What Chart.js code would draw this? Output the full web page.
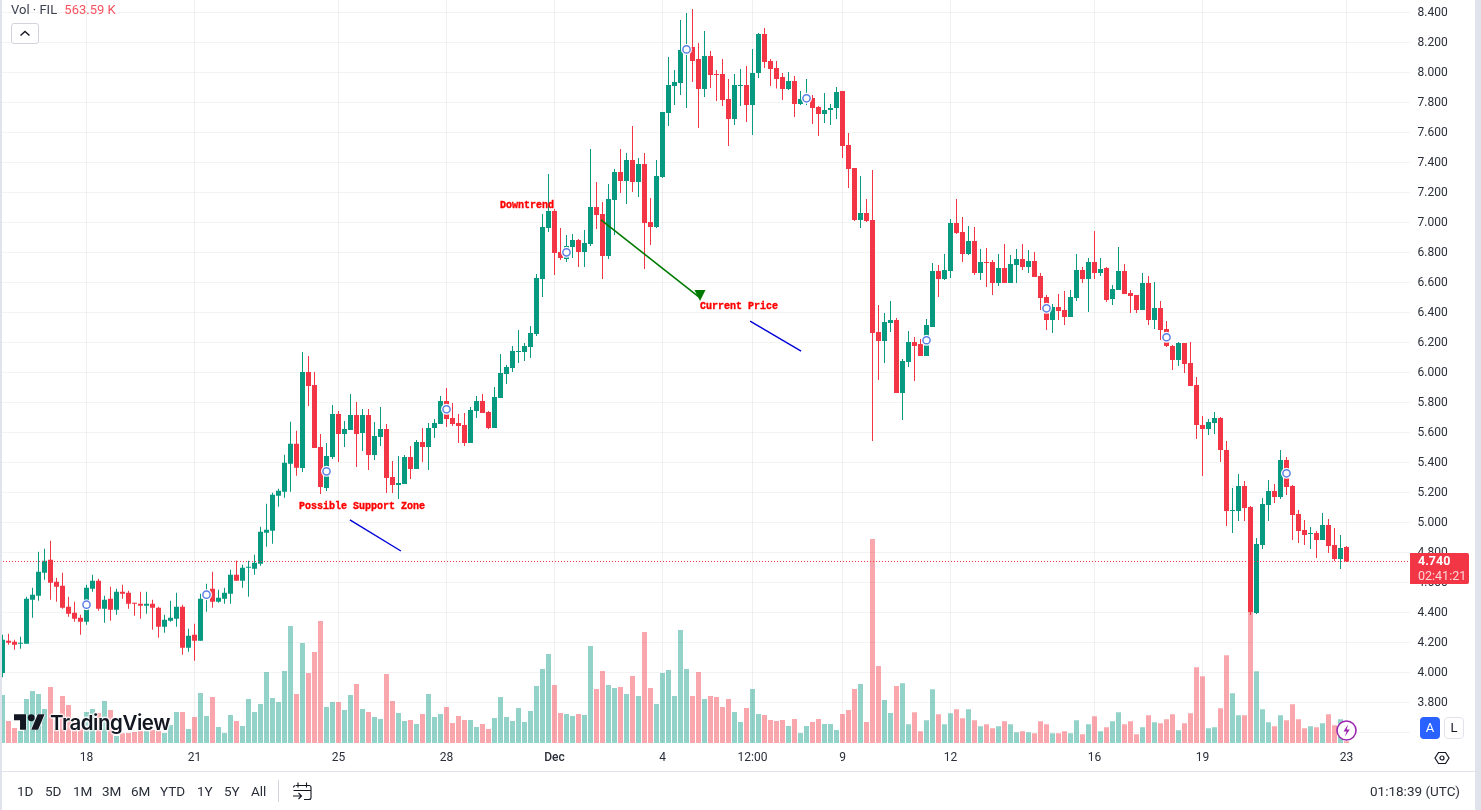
<!DOCTYPE html>
<html>
<head>
<meta charset="utf-8">
<title>FIL chart</title>
<script src="https://cdn.jsdelivr.net/npm/chart.js@4/dist/chart.umd.min.js"></script>
<style>
html,body{margin:0;padding:0;background:#fff;width:1481px;height:810px;overflow:hidden;font-family:Roboto,sans-serif;color:#131722}
#chart{position:absolute;left:-6px;top:0}
.ui{position:absolute;white-space:nowrap}
.range{top:783px;font-size:13.5px;line-height:16px;color:#2a2e39}
#stripL{left:0;top:0;width:2px;height:810px;background:#e0e3eb}
#stripR{left:1475px;top:0;width:6px;height:810px;background:#e0e3eb}
#axisLine{left:2px;top:771px;width:1473px;height:1px;background:#e0e3eb}
#legend{left:11px;top:2px;font-size:13px;line-height:16px;color:#3d4150}
#legend b{font-weight:400;color:#f7525f;margin-left:4px}
#collapse{left:11px;top:23px;width:26px;height:19px;border:1px solid #d1d4dc;border-radius:3px;background:#fff}
#tag{left:1410px;top:553px;width:59px;height:31px;background:#f23645;border-radius:0 2px 2px 0;color:#fff}
#tag div{position:absolute;left:8px;font-size:12.5px;line-height:14px}
#btnA{left:1420px;top:717px;width:20px;height:22px;background:#2962ff;color:#fff;border-radius:4px;text-align:center;font-size:13px;line-height:22px}
#btnL{left:1444px;top:717px;width:18px;height:20px;border:1px solid #e0e3eb;background:#fff;border-radius:4px;text-align:center;font-size:13px;line-height:20px}
#brand{left:50px;top:710px;font-family:Inter,Roboto,sans-serif;font-size:20.5px;line-height:26px;font-weight:600;letter-spacing:-.45px;color:#131722;text-shadow:0 0 2px #fff,0 0 2px #fff,1px 0 2px #fff,-1px 0 2px #fff,0 1px 2px #fff,0 -1px 2px #fff}
#clock{left:1370px;top:783px;font-size:13.5px;line-height:16px;color:#2a2e39}
</style>
</head>
<body>
<canvas id="chart" width="1487" height="771"></canvas>

<div class="ui" id="stripL"></div>
<div class="ui" id="stripR"></div>
<div class="ui" id="axisLine"></div>

<div class="ui" id="legend">Vol · FIL <b>563.59 K</b></div>
<div class="ui" id="collapse">
  <svg width="26" height="19"><path d="M8.5 11.5l4.5-4 4.5 4" fill="none" stroke="#131722" stroke-width="1.4"/></svg>
</div>

<svg class="ui" style="left:14px;top:714px" width="31" height="16" viewBox="0 4 36 18">
  <path d="M14 22H7V11H0V4h14v18zM28 22h-8l7.5-18h8L28 22z" fill="#131722" stroke="#fff" stroke-width="1.5" paint-order="stroke"/>
  <circle cx="20" cy="8" r="4" fill="#131722"/>
</svg>
<div class="ui" id="brand">TradingView</div>

<div class="ui" id="tag"><div style="top:1px;font-weight:700">4.740</div><div style="top:16px;color:#fbd5d8">02:41:21</div></div>
<div class="ui" id="btnA">A</div>
<div class="ui" id="btnL">L</div>

<svg class="ui" style="left:1335px;top:719px" width="23" height="23">
  <circle cx="11.5" cy="11.5" r="9.500" fill="#fff" stroke="#9c27b0" stroke-width="1.6"/>
  <path d="M13 5.500l-4.500 7h3l-1.500 5 4.800-7h-3z" fill="#9c27b0"/>
</svg>
<svg class="ui" style="left:1434px;top:750px" width="16" height="16">
  <path d="M4.500 2.500h7L15 8l-3.500 5.500h-7L1 8z" fill="none" stroke="#131722" stroke-width="1.2"/>
  <circle cx="8" cy="8" r="2" fill="none" stroke="#131722" stroke-width="1.2"/>
</svg>

<div class="ui range" style="left:17px">1D</div>
<div class="ui range" style="left:45px">5D</div>
<div class="ui range" style="left:73px">1M</div>
<div class="ui range" style="left:102px">3M</div>
<div class="ui range" style="left:131px">6M</div>
<div class="ui range" style="left:160px">YTD</div>
<div class="ui range" style="left:197px">1Y</div>
<div class="ui range" style="left:224px">5Y</div>
<div class="ui range" style="left:251px">All</div>
<div class="ui" style="left:278px;top:780px;width:1px;height:22px;background:#d1d4dc"></div>
<svg class="ui" style="left:292px;top:780px" width="20" height="21">
  <path d="M4 5.500h13a2 2 0 0 1 2 2v10a2 2 0 0 1-2 2h-5M1.500 10.500h17.500M1.500 7.500a2 2 0 0 1 2-2M6 2.500v5M14.500 2.500v5M1 16h8M6.500 13l3 3-3 3" fill="none" stroke="#131722" stroke-width="1.1"/>
</svg>
<div class="ui" id="clock">01:18:39 (UTC)</div>

<script>
// 4h candles, left to right
const opens = [
  3.996,4.211,4.205,4.191,4.191,4.485,4.511,4.665,4.751,4.605,
  4.578,4.438,4.398,4.365,4.338,4.558,4.611,4.425,4.491,4.418,
  4.538,4.531,4.465,4.458,4.445,4.458,4.431,4.305,4.345,4.358,
  4.438,4.165,4.251,4.211,4.491,4.558,4.471,4.491,4.525,4.651,
  4.611,4.698,4.691,4.725,4.931,4.945,5.178,5.205,5.391,5.525,
  5.363,6.003,5.916,5.503,5.230,5.436,5.723,5.590,5.616,5.716,
  5.596,5.716,5.450,5.570,5.623,5.303,5.250,5.256,5.436,5.356,
  5.536,5.503,5.630,5.656,5.810,5.696,5.663,5.650,5.530,5.743,
  5.810,5.736,5.630,5.830,5.990,6.030,6.136,6.136,6.170,6.256,
  6.623,6.963,7.076,6.803,6.756,6.836,6.883,6.803,6.856,7.103,
  7.056,6.776,7.150,7.336,7.276,7.416,7.270,7.390,7.003,6.970,
  7.303,7.730,7.910,7.930,8.140,8.170,8.090,7.890,8.110,7.990,
  7.990,7.823,7.690,7.910,7.916,7.783,7.996,8.256,8.076,8.030,
  7.970,7.890,7.943,7.790,7.810,7.830,7.770,7.723,7.750,7.763,
  7.877,7.517,7.363,7.017,7.063,7.017,6.270,6.210,6.330,6.350,
  5.863,6.070,6.203,6.190,6.110,6.303,6.677,6.623,6.677,6.997,
  6.937,6.790,6.877,6.663,6.737,6.737,6.597,6.697,6.597,6.717,
  6.757,6.703,6.743,6.643,6.503,6.350,6.437,6.417,6.370,6.497,
  6.683,6.623,6.737,6.663,6.697,6.490,6.550,6.677,6.530,6.517,
  6.417,6.597,6.350,6.430,6.290,6.177,6.083,6.197,6.063,5.917,
  5.650,5.623,5.663,5.697,5.483,5.077,5.077,5.243,5.103,4.397,
  4.850,5.117,5.210,5.170,5.417,5.243,5.057,4.950,4.923,4.930,
  4.883,4.983,4.850,4.757,4.837
];
const highs = [
  4.251,4.258,4.218,4.238,4.505,4.565,4.805,4.825,4.878,4.631,
  4.665,4.505,4.471,4.385,4.585,4.651,4.625,4.511,4.571,4.558,
  4.585,4.545,4.465,4.538,4.538,4.485,4.438,4.385,4.478,4.531,
  4.451,4.291,4.325,4.525,4.591,4.671,4.551,4.565,4.685,4.745,
  4.718,4.745,4.785,4.971,5.125,5.198,5.225,5.451,5.671,5.611,
  6.136,6.110,6.003,5.590,5.530,5.783,5.743,5.676,5.856,5.803,
  5.756,5.756,5.670,5.770,5.656,5.410,5.443,5.450,5.510,5.550,
  5.630,5.663,5.690,5.843,5.896,5.796,5.723,5.730,5.770,5.843,
  5.856,5.743,5.903,6.123,6.050,6.176,6.283,6.196,6.310,6.656,
  7.056,7.323,7.090,6.963,6.916,6.923,6.890,6.950,7.490,7.270,
  7.136,7.256,7.356,7.490,7.463,7.643,7.430,7.463,7.163,7.416,
  7.736,8.103,8.016,8.350,8.396,8.423,8.196,8.276,8.143,8.016,
  8.090,7.956,7.990,8.023,8.043,8.156,8.263,8.296,8.090,8.076,
  7.996,8.003,7.976,7.876,7.956,7.850,7.776,7.863,7.790,7.903,
  7.877,7.597,7.363,7.310,7.157,7.350,6.450,6.397,6.477,6.363,
  6.090,6.277,6.237,6.223,6.357,6.730,6.717,6.790,7.023,7.157,
  7.037,6.977,6.970,6.823,6.830,6.750,6.790,6.857,6.783,6.823,
  6.857,6.817,6.803,6.663,6.517,6.457,6.523,6.543,6.550,6.790,
  6.703,6.763,6.943,6.763,6.703,6.583,6.837,6.723,6.550,6.517,
  6.663,6.643,6.603,6.477,6.343,6.183,6.203,6.197,6.203,5.970,
  5.710,5.690,5.737,5.703,5.543,5.230,5.323,5.277,5.110,4.897,
  5.163,5.283,5.257,5.483,5.437,5.250,5.083,5.017,4.970,4.943,
  5.063,5.023,4.963,4.917,4.843
];
const lows = [
  3.969,4.185,4.151,4.158,4.191,4.365,4.478,4.618,4.485,4.471,
  4.425,4.371,4.338,4.251,4.318,4.538,4.411,4.331,4.345,4.385,
  4.491,4.425,4.378,4.358,4.391,4.285,4.231,4.265,4.338,4.305,
  4.118,4.138,4.078,4.211,4.405,4.431,4.465,4.458,4.458,4.611,
  4.565,4.505,4.651,4.711,4.838,4.858,5.105,5.165,5.205,5.311,
  5.336,5.776,5.496,5.190,5.210,5.423,5.403,5.503,5.616,5.370,
  5.476,5.350,5.416,5.510,5.196,5.196,5.156,5.256,5.290,5.356,
  5.403,5.350,5.563,5.656,5.636,5.643,5.530,5.510,5.530,5.696,
  5.730,5.623,5.630,5.830,5.923,6.003,6.063,6.076,6.096,6.243,
  6.503,6.936,6.650,6.750,6.736,6.763,6.703,6.703,6.843,6.956,
  6.623,6.756,6.916,7.196,7.123,7.203,7.170,6.690,6.850,6.963,
  7.296,7.643,7.783,7.850,7.763,7.936,7.630,7.836,7.896,7.810,
  7.776,7.510,7.650,7.776,7.670,7.583,7.963,8.030,7.910,7.894,
  7.816,7.883,7.703,7.783,7.783,7.656,7.576,7.663,7.650,7.690,
  7.430,7.230,7.010,6.963,7.003,5.543,5.950,6.063,6.270,5.863,
  5.683,6.037,5.943,6.110,6.110,6.303,6.503,6.617,6.630,6.923,
  6.737,6.783,6.650,6.617,6.570,6.517,6.577,6.597,6.597,6.597,
  6.683,6.663,6.637,6.417,6.283,6.263,6.350,6.317,6.370,6.477,
  6.597,6.403,6.623,6.643,6.470,6.450,6.550,6.523,6.397,6.397,
  6.417,6.317,6.290,6.217,6.170,6.017,6.043,5.997,5.910,5.557,
  5.310,5.583,5.590,5.403,4.977,4.930,5.010,5.010,4.383,4.390,
  4.823,5.010,5.130,5.157,5.183,4.883,4.863,4.850,4.823,4.763,
  4.883,4.797,4.743,4.690,4.737
];
const closes = [
  4.218,4.198,4.185,4.198,4.491,4.518,4.671,4.745,4.598,4.571,
  4.431,4.391,4.358,4.338,4.565,4.611,4.425,4.485,4.418,4.538,
  4.525,4.458,4.458,4.445,4.458,4.431,4.305,4.351,4.365,4.438,
  4.165,4.245,4.211,4.491,4.538,4.471,4.498,4.531,4.651,4.611,
  4.698,4.705,4.731,4.938,4.951,5.185,5.211,5.398,5.525,5.365,
  6.003,5.910,5.496,5.236,5.443,5.723,5.590,5.623,5.716,5.590,
  5.716,5.450,5.576,5.623,5.296,5.250,5.263,5.436,5.356,5.536,
  5.503,5.630,5.663,5.810,5.690,5.656,5.643,5.530,5.750,5.810,
  5.730,5.630,5.836,5.996,6.036,6.143,6.143,6.176,6.263,6.630,
  6.970,7.076,6.796,6.763,6.843,6.883,6.803,6.863,7.103,7.050,
  6.776,7.156,7.336,7.276,7.416,7.270,7.390,6.996,6.970,7.310,
  7.736,7.916,7.936,8.150,8.160,8.076,7.890,8.110,7.983,7.983,
  7.816,7.690,7.916,7.916,7.783,7.996,8.256,8.070,8.023,7.956,
  7.890,7.943,7.790,7.823,7.850,7.763,7.723,7.750,7.763,7.870,
  7.510,7.357,7.017,7.063,7.010,6.263,6.210,6.337,6.350,5.863,
  6.077,6.203,6.177,6.110,6.317,6.677,6.623,6.683,6.997,6.930,
  6.790,6.877,6.663,6.737,6.730,6.597,6.697,6.597,6.723,6.757,
  6.703,6.743,6.637,6.497,6.350,6.437,6.410,6.370,6.503,6.683,
  6.623,6.737,6.663,6.690,6.483,6.557,6.677,6.523,6.510,6.417,
  6.597,6.350,6.430,6.283,6.177,6.083,6.197,6.057,5.910,5.650,
  5.623,5.670,5.697,5.483,5.077,5.083,5.243,5.097,4.403,4.857,
  5.123,5.210,5.170,5.417,5.237,5.050,4.943,4.917,4.930,4.883,
  4.983,4.843,4.757,4.830,4.740
];
// volume in millions
const volumes = [
  14.4,6.6,4.5,3.6,13.2,15.6,14.7,10.2,16.8,6.9,
  14.1,11.4,6.9,5.4,9.3,10.2,9.0,12.6,9.9,2.1,
  2.9,3.0,3.3,3.6,3.6,3.9,3.6,3.0,5.4,9.3,
  9.3,4.2,7.8,15.0,8.1,13.8,4.8,3.0,8.4,6.6,
  5.1,13.2,9.3,11.7,21.3,13.5,12.3,21.6,35.1,14.7,
  30.0,21.0,27.3,36.6,10.8,12.3,12.3,9.9,14.4,17.7,
  10.2,9.3,7.8,7.2,20.7,12.6,9.0,6.6,6.9,5.7,
  8.7,14.7,7.8,8.7,10.8,6.0,8.1,6.9,6.9,4.8,
  5.7,4.2,7.5,13.8,7.8,6.6,10.5,6.3,9.6,17.1,
  22.2,26.7,17.4,9.0,8.7,8.1,8.7,8.4,29.1,16.2,
  21.6,17.4,16.5,16.8,14.7,20.1,14.1,33.3,16.5,11.7,
  21.0,21.9,14.1,33.9,22.2,14.1,21.3,13.2,14.1,13.8,
  10.8,13.2,9.3,6.3,10.5,16.2,8.7,8.4,6.9,6.6,
  6.9,5.1,7.2,3.0,5.1,6.3,7.2,5.7,5.7,3.9,
  8.7,9.9,16.2,17.7,6.3,61.2,23.1,12.9,9.0,17.1,
  17.9,5.6,9.2,3.5,6.8,16.1,8.6,5.6,8.9,10.1,
  7.4,10.1,6.8,5.0,5.6,4.4,5.0,6.5,5.6,3.2,
  3.5,3.2,2.9,6.5,5.6,2.9,2.9,3.5,2.9,6.8,
  2.6,5.6,8.0,3.5,4.7,6.5,9.2,5.6,6.5,2.6,
  4.7,8.3,6.2,5.9,7.1,8.6,3.8,5.9,8.9,22.7,
  20.0,4.4,4.7,10.4,26.3,14.9,8.3,8.3,41.3,21.5,
  10.1,6.2,5.0,8.3,6.8,11.6,7.1,4.4,5.0,4.7,
  5.9,8.6,5.3,7.1,0.56
];
const priceTicks = [3.6,3.8,4.0,4.2,4.4,4.6,4.8,5.0,5.2,5.4,5.6,5.8,6.0,6.2,6.4,6.6,6.8,7.0,7.2,7.4,7.6,7.8,8.0,8.2,8.4];
const tickIndex = [14,32,56,74,92,110,125,140,158,182,200,224];
const tickText = ["18","21","25","28","Dec","4","12:00","9","12","16","19","23"];
const markerIndex = [14,34,54,74,94,114,134,154,174,194,214];
const markerPrice = [4.452,4.519,5.341,5.755,6.801,8.154,7.828,6.215,6.428,6.235,5.328];
const lastPrice = 4.740;

const UP = "#089981", DOWN = "#f23645";
const SLOTS = 235; // candles plus the empty space on the right

const xLabels = Array(SLOTS).fill("");
tickIndex.forEach((n,k)=>{ xLabels[n] = tickText[k]; });

const candleColor = closes.map((c,i)=> c >= opens[i] ? UP : DOWN);
const volColor = closes.map((c,i)=> c >= opens[i] ? "rgba(8,153,129,.44)" : "rgba(242,54,69,.44)");

/* DRAWINGS placed on the scales */
const drawnLines = [
  {from:[57.9,5.017], to:[66.4,4.810], color:"#0000d8", width:1.4},
  {from:[124.6,6.343], to:[133.1,6.143], color:"#0000d8", width:1.4},
  {from:[99.75,7.017], to:[116.1,6.503], color:"#007a00", width:1.6}
];
const drawnText = [
  {at:[82.9,7.113], text:"Downtrend"},
  {at:[116.25,6.443], text:"Current Price"},
  {at:[49.4,5.110], text:"Possible Support Zone"}
];
const arrowTip = [116.25,6.477];

const drawings = {
  id:"drawings",
  afterDatasetsDraw(chart){
    const c = chart.ctx, x = chart.scales.x, y = chart.scales.y;
    c.save();

    // split markers on the candles
    markerIndex.forEach((n,k)=>{
      const mx = x.getPixelForValue(n), my = y.getPixelForValue(markerPrice[k]);
      c.beginPath();
      c.arc(mx, my, 5.5, 0, Math.PI*2);
      c.fillStyle = "#fff";
      c.fill();
      c.beginPath();
      c.arc(mx, my, 3.6, 0, Math.PI*2);
      c.strokeStyle = "#5b7fe8";
      c.lineWidth = 1.5;
      c.stroke();
    });

    drawnLines.forEach(l=>{
      c.beginPath();
      c.moveTo(x.getPixelForValue(l.from[0]), y.getPixelForValue(l.from[1]));
      c.lineTo(x.getPixelForValue(l.to[0]), y.getPixelForValue(l.to[1]));
      c.strokeStyle = l.color;
      c.lineWidth = l.width;
      c.stroke();
    });
    // arrow head of the green line
    const ax = x.getPixelForValue(arrowTip[0]), ay = y.getPixelForValue(arrowTip[1]);
    c.beginPath();
    c.moveTo(ax-5.5, ay-11); c.lineTo(ax+5.5, ay-11); c.lineTo(ax, ay);
    c.closePath();
    c.fillStyle = "#007a00";
    c.fill();

    c.font = "bold 10px 'Liberation Mono', monospace";
    c.fillStyle = "#ff0000";
    c.strokeStyle = "#ff0000";
    c.lineWidth = .35;
    c.textAlign = "left";
    c.textBaseline = "middle";
    drawnText.forEach(t=>{
      const tx = x.getPixelForValue(t.at[0]), ty = y.getPixelForValue(t.at[1]);
      c.fillText(t.text, tx, ty);
      c.strokeText(t.text, tx, ty);
    });

    // last price line
    const py = Math.floor(y.getPixelForValue(lastPrice)) + 0.5;
    c.beginPath();
    c.setLineDash([1,2]);
    c.moveTo(Math.ceil(chart.chartArea.left), py);
    c.lineTo(chart.chartArea.right, py);
    c.strokeStyle = DOWN;
    c.lineWidth = 1;
    c.stroke();
    c.restore();
  }
};

new Chart(document.getElementById("chart"),{
  type:"bar",
  data:{
    labels:xLabels,
    datasets:[
      {label:"Body", yAxisID:"y", data:opens.map((o,i)=>[o,closes[i]]), backgroundColor:candleColor, barThickness:5, order:3},
      {label:"Wick", yAxisID:"y", data:lows.map((l,i)=>[l,highs[i]]), backgroundColor:candleColor, barThickness:1, order:4},
      {label:"Vol", yAxisID:"vol", data:volumes, backgroundColor:volColor, barThickness:5, order:5}
    ]
  },
  options:{
    responsive:false,
    animation:false,
    devicePixelRatio:1,
    events:[],
    layout:{autoPadding:false, padding:{left:5.5,top:0,right:0,bottom:0}},
    datasets:{bar:{grouped:false, borderWidth:0, borderSkipped:false, inflateAmount:0}},
    plugins:{legend:{display:false}, tooltip:{enabled:false}},
    scales:{
      x:{
        offset:true,
        afterFit(s){ s.height = 28; s.paddingLeft = 0; s.paddingRight = 0; },
        grid:{offset:false, drawTicks:false, color:c=> xLabels[c.index] ? "rgba(42,46,57,.07)" : "rgba(0,0,0,0)"},
        border:{display:false},
        ticks:{
          autoSkip:false, maxRotation:0, minRotation:0, padding:8,
          color:"#2a2e39",
          font:c=> ({family:"Roboto", size:12, weight: xLabels[c.index]==="Dec" ? "500" : "400"})
        }
      },
      y:{
        position:"right",
        min:3.53,
        max:8.4833,
        afterBuildTicks(s){ s.ticks = priceTicks.map(v=>({value:v})); },
        afterFit(s){ s.width = 71.5; s.paddingTop = 0; s.paddingBottom = 0; },
        grid:{drawTicks:false, color:"rgba(42,46,57,.06)"},
        border:{display:false},
        ticks:{padding:8, labelOffset:1, color:"#2a2e39", font:{family:"Roboto", size:12}, callback:v=> v < 3.7 ? "" : v.toFixed(3)}
      },
      vol:{display:false, min:0, max:222.9}
    }
  },
  plugins:[drawings]
});
</script>
</body>
</html>
